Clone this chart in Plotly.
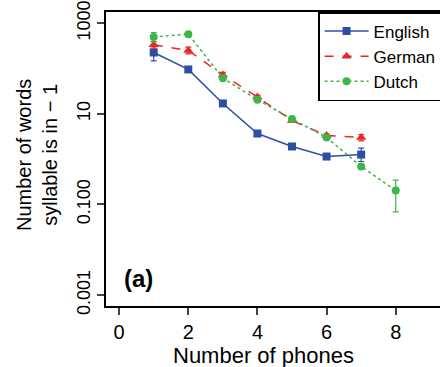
import plotly.graph_objects as go

# Data
phones_en = [1, 2, 3, 4, 5, 6, 7]
english = [225, 95, 16.9, 3.67, 1.9, 1.14, 1.26]
english_hi = [305, 95, 16.9, 3.67, 1.9, 1.14, 1.75]
english_lo = [147, 95, 16.9, 3.67, 1.9, 1.14, 0.885]

phones_de = [1, 2, 3, 4, 5, 6, 7]
german = [332, 249, 72, 23.3, 7.1, 3.3, 3.0]
german_hi = [393, 295, 82, 25.5, 7.6, 3.6, 3.49]
german_lo = [281, 210, 63, 21.3, 6.6, 3.0, 2.53]

phones_nl = [1, 2, 3, 4, 5, 6, 7, 8]
dutch = [491, 571, 61, 20.3, 7.7, 3.0, 0.687, 0.203]
dutch_hi = [621, 620, 61, 20.3, 7.7, 3.0, 0.76, 0.344]
dutch_lo = [387, 525, 61, 20.3, 7.7, 3.0, 0.62, 0.0687]

y_tickvals = [0.001, 0.1, 10, 1000]
y_ticktext = ["0.001", "0.100", "10", "1000"]
x_tickvals = [0, 2, 4, 6, 8]

FONT = "Liberation Sans, Arial, sans-serif"

series = [
    ("English", phones_en, english, english_hi, english_lo, "#2C4FA3", "solid", "square", 8),
    ("German", phones_de, german, german_hi, german_lo, "#E8262B", "dash", "triangle-up", 9),
    ("Dutch", phones_nl, dutch, dutch_hi, dutch_lo, "#3DB649", "dot", "circle", 8),
]

fig = go.Figure()
for name, xs, ys, hi, lo, color, dash, sym, msize in series:
    fig.add_trace(go.Scatter(
        x=xs, y=ys, name=name, mode="lines+markers",
        line=dict(color=color, width=1.5, dash=dash),
        marker=dict(color=color, symbol=sym, size=msize),
        error_y=dict(type="data", symmetric=False,
                     array=[h - v for h, v in zip(hi, ys)],
                     arrayminus=[v - l for v, l in zip(ys, lo)],
                     color=color, thickness=1.2, width=3),
    ))

fig.update_layout(
    width=440, height=367,
    margin=dict(l=106, r=0, t=12, b=61, autoexpand=False),
    plot_bgcolor="white", paper_bgcolor="white",
    font=dict(family=FONT, color="black"),
    showlegend=True,
    legend=dict(x=0.635, xanchor="left", y=1, yanchor="top",
                bordercolor="black", borderwidth=1.5, bgcolor="white",
                font=dict(size=17, family=FONT), itemwidth=44),
    xaxis=dict(range=[-0.38, 9.28], tickvals=x_tickvals, ticks="outside",
               ticklen=7, tickwidth=1.5, showline=True, mirror=True,
               linecolor="black", linewidth=1.5, showgrid=False, zeroline=False,
               tickfont=dict(size=20, family=FONT)),
    yaxis=dict(type="log", range=[-3.24, 3.245], tickvals=y_tickvals, ticktext=y_ticktext,
               tickangle=-90, ticks="outside", ticklen=7, tickwidth=1.5,
               ticklabeloverflow="allow",
               showline=True, mirror=False, linecolor="black", linewidth=1.5,
               showgrid=False, zeroline=False, tickfont=dict(size=18, family=FONT)),
)

# place annotations in pixel-based paper coordinates
plot_w = 440 - 106
plot_h = 367 - 12 - 61
def px_to_paper(px, py):
    return (px - 106) / plot_w, (367 - 61 - py) / plot_h

ax, ay = px_to_paper(263, 355)
bx, by = px_to_paper(138, 278)
tx, ty = px_to_paper(37, 155)
fig.add_annotation(text="Number of phones", x=ax, y=ay, xref="paper", yref="paper",
                   showarrow=False, xanchor="center", yanchor="middle",
                   font=dict(size=22, family=FONT))
fig.add_annotation(text="<b>(a)</b>", x=bx, y=by, xref="paper", yref="paper",
                   showarrow=False, xanchor="center", yanchor="middle",
                   font=dict(size=24, family=FONT))
fig.add_annotation(text="Number of words<br>syllable is in \u2212 1", x=tx, y=ty,
                   xref="paper", yref="paper", textangle=-90,
                   showarrow=False, xanchor="center", yanchor="middle",
                   font=dict(size=20, family=FONT))

fig.write_html("out.html")
